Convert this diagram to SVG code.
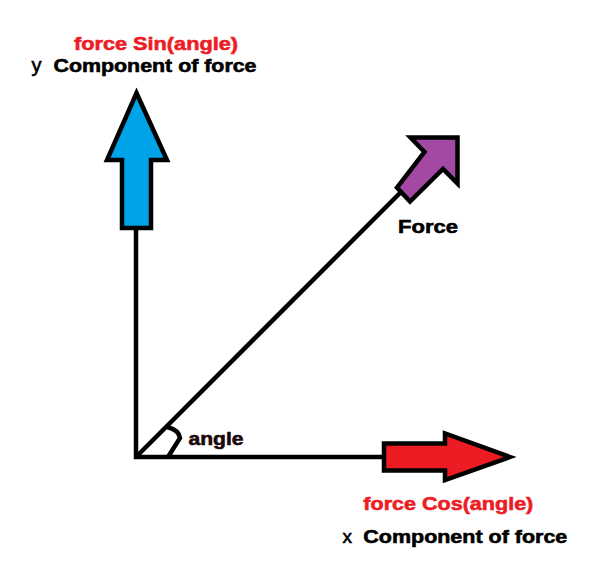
<svg xmlns="http://www.w3.org/2000/svg" width="607" height="565" viewBox="0 0 607 565">
<style>
.ln{stroke:#000;stroke-width:4.5;fill:none;stroke-linecap:butt}
.arr{stroke:#000;stroke-width:4.5;stroke-linejoin:miter}
.t{font-family:"Liberation Sans",Arial,sans-serif;font-weight:bold;font-size:19px;stroke-width:0.6px}
.red{fill:#ed1c24;stroke:#ed1c24}
.blk{fill:#000;stroke:#000}
.s{font-family:"Liberation Sans",Arial,sans-serif;fill:#000;stroke:#000;stroke-width:0.6px}
</style>
<rect width="607" height="565" fill="#fff"/>
<g id="connectors">
<path class="ln" d="M136 228 L136 457 L384 457"/>
<path class="ln" d="M136 457 L404 189"/>
<path class="ln" d="M167 427 Q179 430 180 438 L168 457"/>
</g>
<g id="y-arrow">
<path class="arr" fill="#00a2e8" d="M136.5 93 L167 160 L151 160 L151 228 L122 228 L122 160 L107 160 Z"/>
</g>
<g id="x-arrow">
<path class="arr" fill="#ed1c24" d="M384 443.5 L445 443.5 L445 433.5 L510 457 L445 480 L445 470.5 L384 470.5 Z"/>
</g>
<g id="force-arrow">
<path class="arr" fill="#a349a4" d="M457.5 137.5 L457.5 183.5 L443 169 L410 201.5 L397 187.5 L424.5 152 L410.5 137.5 Z"/>
</g>
<g id="labels">
<text class="t red" x="74" y="50" textLength="164" lengthAdjust="spacingAndGlyphs">force Sin(angle)</text>
<text class="s" x="31.5" y="71.7" font-size="20">y</text>
<text class="t blk" x="53.5" y="71.7" textLength="203" lengthAdjust="spacingAndGlyphs">Component of force</text>
<text class="t blk" x="398" y="233" font-size="20" textLength="60" lengthAdjust="spacingAndGlyphs">Force</text>
<text class="t" x="188.5" y="445" fill="#1a0808" stroke="#1a0808" textLength="55" lengthAdjust="spacingAndGlyphs">angle</text>
<text class="t red" x="363.3" y="510" textLength="170" lengthAdjust="spacingAndGlyphs">force Cos(angle)</text>
<text class="s" x="342.5" y="543.3" font-size="19">x</text>
<text class="t blk" x="363.3" y="543.3" textLength="204" lengthAdjust="spacingAndGlyphs">Component of force</text>
</g>
</svg>
